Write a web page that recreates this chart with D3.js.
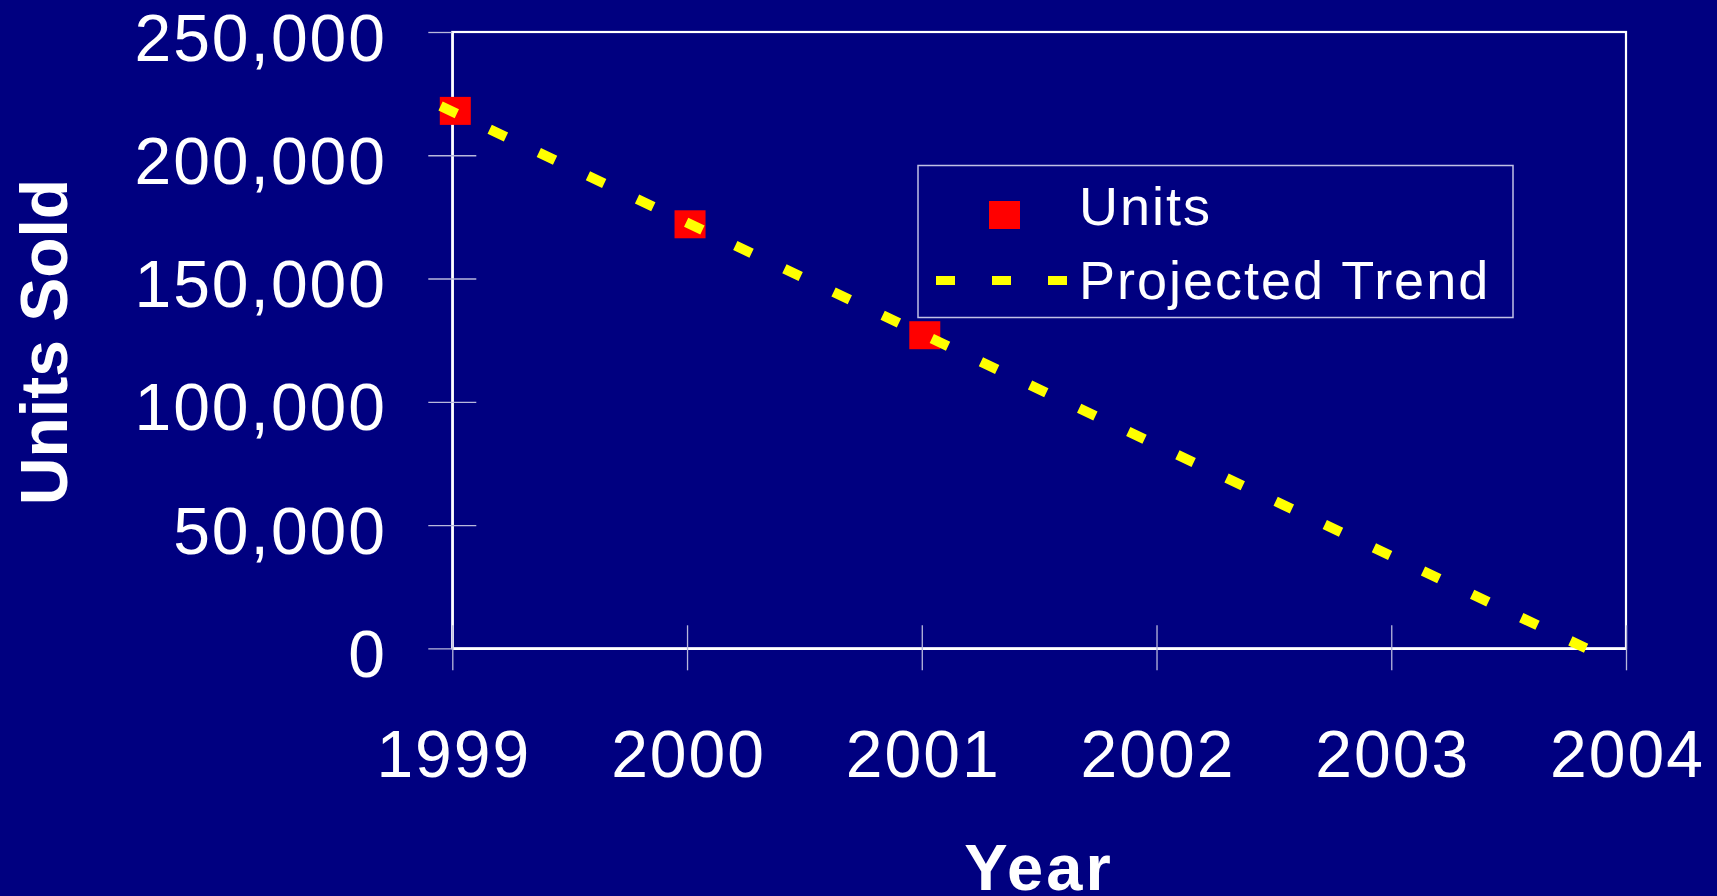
<!DOCTYPE html>
<html>
<head>
<meta charset="utf-8">
<script src="https://cdn.jsdelivr.net/npm/d3@7"></script>
<style>
  html, body { margin: 0; padding: 0; background: #000080; overflow: hidden; }
  svg { display: block; }
  text { font-family: "Liberation Sans", Arial, sans-serif; fill: #ffffff; }
</style>
</head>
<body>
<div id="chart"></div>
<script>
// data
var years = [1999, 2000, 2001];
var units = [218000, 172000, 127000];

// projected trend, start and end as drawn
var trendYears = [1998.95, 2003.83];
var trendValues = [220000, 0];

var xTicks = [1999, 2000, 2001, 2002, 2003, 2004];
var yTicks = [0, 50000, 100000, 150000, 200000, 250000];

var legendItems = ["Units", "Projected Trend"];

var svg = d3.select("#chart")
            .append("svg")
            .attr("width", 1717)
            .attr("height", 896);

// plot box (window.top is read-only, so no "top" here)
var plot = {left: 452.3, right: 1626, top: 32, bottom: 648.3};

var x = d3.scaleLinear().domain([1999, 2004]).range([plot.left, plot.right]),
    y = d3.scaleLinear().domain([0, 250000]).range([plot.bottom, plot.top]);

var fmt = d3.format(",");

// plot frame
svg.append("rect")
    .attr("x", plot.left)
    .attr("y", plot.top)
    .attr("width", plot.right - plot.left)
    .attr("height", plot.bottom - plot.top)
    .attr("fill", "none")
    .attr("stroke", "#ffffff")
    .attr("stroke-width", 2.2);

// y axis, ticks cross the line
var yAxis = svg.append("g")
    .attr("class", "axis y")
    .attr("transform", "translate(" + plot.left + ",0)")
    .call(d3.axisLeft(y).tickValues(yTicks).tickSizeInner(24).tickSizeOuter(0).tickFormat(fmt));

yAxis.select(".domain").attr("stroke", "#ffffff").attr("stroke-width", 2.2);
yAxis.selectAll(".tick line")
    .attr("x1", function(d) { return d == 250000 ? 0 : 24; })
    .attr("stroke", "#b8b8dc")
    .attr("stroke-width", 1.3);
yAxis.selectAll(".tick text")
    .attr("x", 385 - plot.left + 2)
    .attr("dy", 28)
    .attr("y", 0)
    .attr("fill", "#ffffff")
    .style("font-size", "66px")
    .style("letter-spacing", "2px")
    .style("font-family", "'Liberation Sans', Arial, sans-serif");

// x axis
var xAxis = svg.append("g")
    .attr("class", "axis x")
    .attr("transform", "translate(0," + plot.bottom + ")")
    .call(d3.axisBottom(x).tickValues(xTicks).tickSizeInner(22).tickSizeOuter(0).tickFormat(d3.format("d")));

xAxis.select(".domain").attr("stroke", "#ffffff").attr("stroke-width", 2.2);
xAxis.selectAll(".tick line")
    .attr("y1", -23)
    .attr("stroke", "#b8b8dc")
    .attr("stroke-width", 1.3);
xAxis.selectAll(".tick text")
    .attr("y", 777 - plot.bottom)
    .attr("dy", 0)
    .attr("x", 1)
    .attr("fill", "#ffffff")
    .style("font-size", "66px")
    .style("letter-spacing", "2px")
    .style("font-family", "'Liberation Sans', Arial, sans-serif");

// axis titles
svg.append("text")
    .attr("transform", "translate(67,342) rotate(-90)")
    .attr("text-anchor", "middle")
    .style("font-size", "66px")
    .style("font-weight", "bold")
    .text("Units Sold");

svg.append("text")
    .attr("x", 1039)
    .attr("y", 890)
    .attr("text-anchor", "middle")
    .style("font-size", "65px")
    .style("font-weight", "bold")
    .style("letter-spacing", "3px")
    .text("Year");

// points
svg.selectAll(".pt")
    .data(years)
    .enter()
    .append("rect")
    .attr("class", "pt")
    .attr("x", function(d) { return x(d) + 3 - 15.5; })
    .attr("y", function(d, i) { return y(units[i]) - 14; })
    .attr("width", 31)
    .attr("height", 28)
    .attr("fill", "#ff0000");

// trend line
var line = d3.line()
    .x(function(d) { return x(d[0]); })
    .y(function(d) { return y(d[1]); });

svg.append("path")
    .datum(trendYears.map(function(d, i) { return [d, trendValues[i]]; }))
    .attr("d", line)
    .attr("fill", "none")
    .attr("stroke", "#ffff00")
    .attr("stroke-width", 10)
    .attr("stroke-dasharray", "18,36.35");

// legend
var lg = svg.append("g").attr("class", "legend");

lg.append("rect")
    .attr("x", 918)
    .attr("y", 165.5)
    .attr("width", 1513 - 918)
    .attr("height", 317.5 - 165.5)
    .attr("fill", "#000080")
    .attr("stroke", "#c0c0e4")
    .attr("stroke-width", 1.5);

lg.append("rect")
    .attr("x", 989)
    .attr("y", 201)
    .attr("width", 31)
    .attr("height", 28)
    .attr("fill", "#ff0000");

lg.append("line")
    .attr("x1", 936)
    .attr("x2", 1067)
    .attr("y1", 280.5)
    .attr("y2", 280.5)
    .attr("stroke", "#ffff00")
    .attr("stroke-width", 9)
    .attr("stroke-dasharray", "19,37");

lg.selectAll(".lgtext")
    .data(legendItems)
    .enter()
    .append("text")
    .attr("class", "lgtext")
    .attr("x", 1079)
    .attr("y", function(d, i) { return i == 0 ? 224.5 : 299; })
    .style("font-size", "54px")
    .style("letter-spacing", "2px")
    .text(function(d) { return d; });
</script>
</body>
</html>
